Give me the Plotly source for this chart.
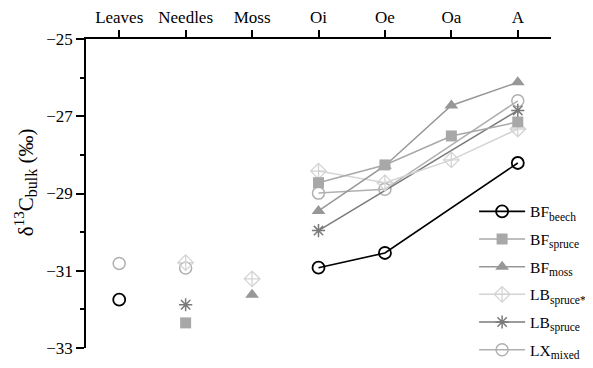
import plotly.graph_objects as go

categories = ["Leaves", "Needles", "Moss", "Oi", "Oe", "Oa", "A"]
plant_cats = ["Leaves", "Needles", "Moss"]
soil_cats = ["Oi", "Oe", "Oa", "A"]

def lab(main, sub):
    return main + '<sub><span style="font-size:11.5px">' + sub + '</span></sub>'

names = [lab("BF", "beech"), lab("BF", "spruce"), lab("BF", "moss"),
         lab("LB", "spruce*"), lab("LB", "spruce"), lab("LX", "mixed")]

bf_beech = [-31.75, None, None, -30.92, -30.54, None, -28.21]
bf_spruce = [None, -32.35, None, -28.72, -28.26, -27.51, -27.15]
bf_moss = [None, None, -31.62, -29.45, -28.28, -26.72, -26.12]
lb_spruce_star = [None, -30.79, -31.21, -28.42, -28.72, -28.13, -27.33]
lb_spruce = [None, -31.88, None, -29.96, None, None, -26.85]
lx_mixed = [-30.81, -30.93, None, -28.99, -28.89, None, -26.6]

series = [bf_beech, bf_spruce, bf_moss, lb_spruce_star, lb_spruce, lx_mixed]

styles = [
    dict(color="#000000", symbol="circle-open", size=12, lw=1.6, mlw=1.8),
    dict(color="#a8a8a8", symbol="square", size=11, lw=1.5, mlw=0),
    dict(color="#979797", symbol="triangle-up", size=12, lw=1.5, mlw=0),
    dict(color="#d4d4d4", symbol="diamond-cross-open", size=12, lw=1.5, mlw=1.3),
    dict(color="#7a7a7a", symbol="asterisk-open", size=11, lw=1.5, mlw=1.5),
    dict(color="#b0b0b0", symbol="circle-open", size=12, lw=1.5, mlw=1.5),
]

fig = go.Figure()
order = [5, 4, 3, 2, 1, 0]
for i in order:
    vals = series[i]
    st = styles[i]
    marker = dict(color=st["color"], symbol=st["symbol"], size=st["size"],
                  line=dict(color=st["color"], width=st["mlw"]))
    px = [c for c, v in zip(categories, vals) if c in plant_cats and v is not None]
    py = [v for c, v in zip(categories, vals) if c in plant_cats and v is not None]
    fig.add_trace(go.Scatter(x=px, y=py, mode="markers", marker=marker,
                             showlegend=False, hoverinfo="skip",
                             legendgroup="g%d" % i))
    sx = [c for c, v in zip(categories, vals) if c in soil_cats and v is not None]
    sy = [v for c, v in zip(categories, vals) if c in soil_cats and v is not None]
    fig.add_trace(go.Scatter(x=sx, y=sy, mode="lines+markers", name=names[i],
                             marker=marker, legendgroup="g%d" % i,
                             line=dict(color=st["color"], width=st["lw"]),
                             legendrank=i + 1))

font = "Liberation Serif, Times New Roman, serif"
fig.update_layout(
    width=593, height=360,
    margin=dict(l=78, r=50, t=31, b=20, autoexpand=False),
    paper_bgcolor="white", plot_bgcolor="white",
    font=dict(family=font, size=17, color="black"),
    showlegend=True,
    legend=dict(x=0.786, y=0.481, xref="container", yref="container",
                xanchor="left", yanchor="top",
                bgcolor="rgba(0,0,0,0)", font=dict(size=15.5, family=font),
                tracegroupgap=4.5, itemwidth=46),
    xaxis=dict(type="category", categoryorder="array", categoryarray=categories,
               range=[-0.5, 6.5], side="top", showgrid=False, zeroline=False,
               showline=True, linecolor="black", linewidth=1.6, automargin=False,
               ticks="outside", ticklen=7, tickwidth=1.6, tickcolor="black",
               tickfont=dict(size=17, family=font)),
    yaxis=dict(range=[-33, -25], dtick=2, tick0=-25, showgrid=False,
               zeroline=False, showline=True, linecolor="black", linewidth=1.6,
               automargin=False,
               ticks="outside", ticklen=8, tickwidth=1.6, tickcolor="black",
               minor=dict(dtick=1, ticks="outside", ticklen=4, tickwidth=1.6,
                          tickcolor="black", showgrid=False),
               tickfont=dict(size=17, family=font)),
    annotations=[dict(
        text='δ<sup><span style="font-size:15px">13</span></sup>C'
             '<sub><span style="font-size:16px">bulk</span></sub> (‰)',
        textangle=-90, xref="paper", yref="paper", x=-0.131, y=0.537,
        xanchor="center", yanchor="middle", showarrow=False,
        font=dict(size=21, family=font, color="black"))],
)

fig.write_html("out.html")
